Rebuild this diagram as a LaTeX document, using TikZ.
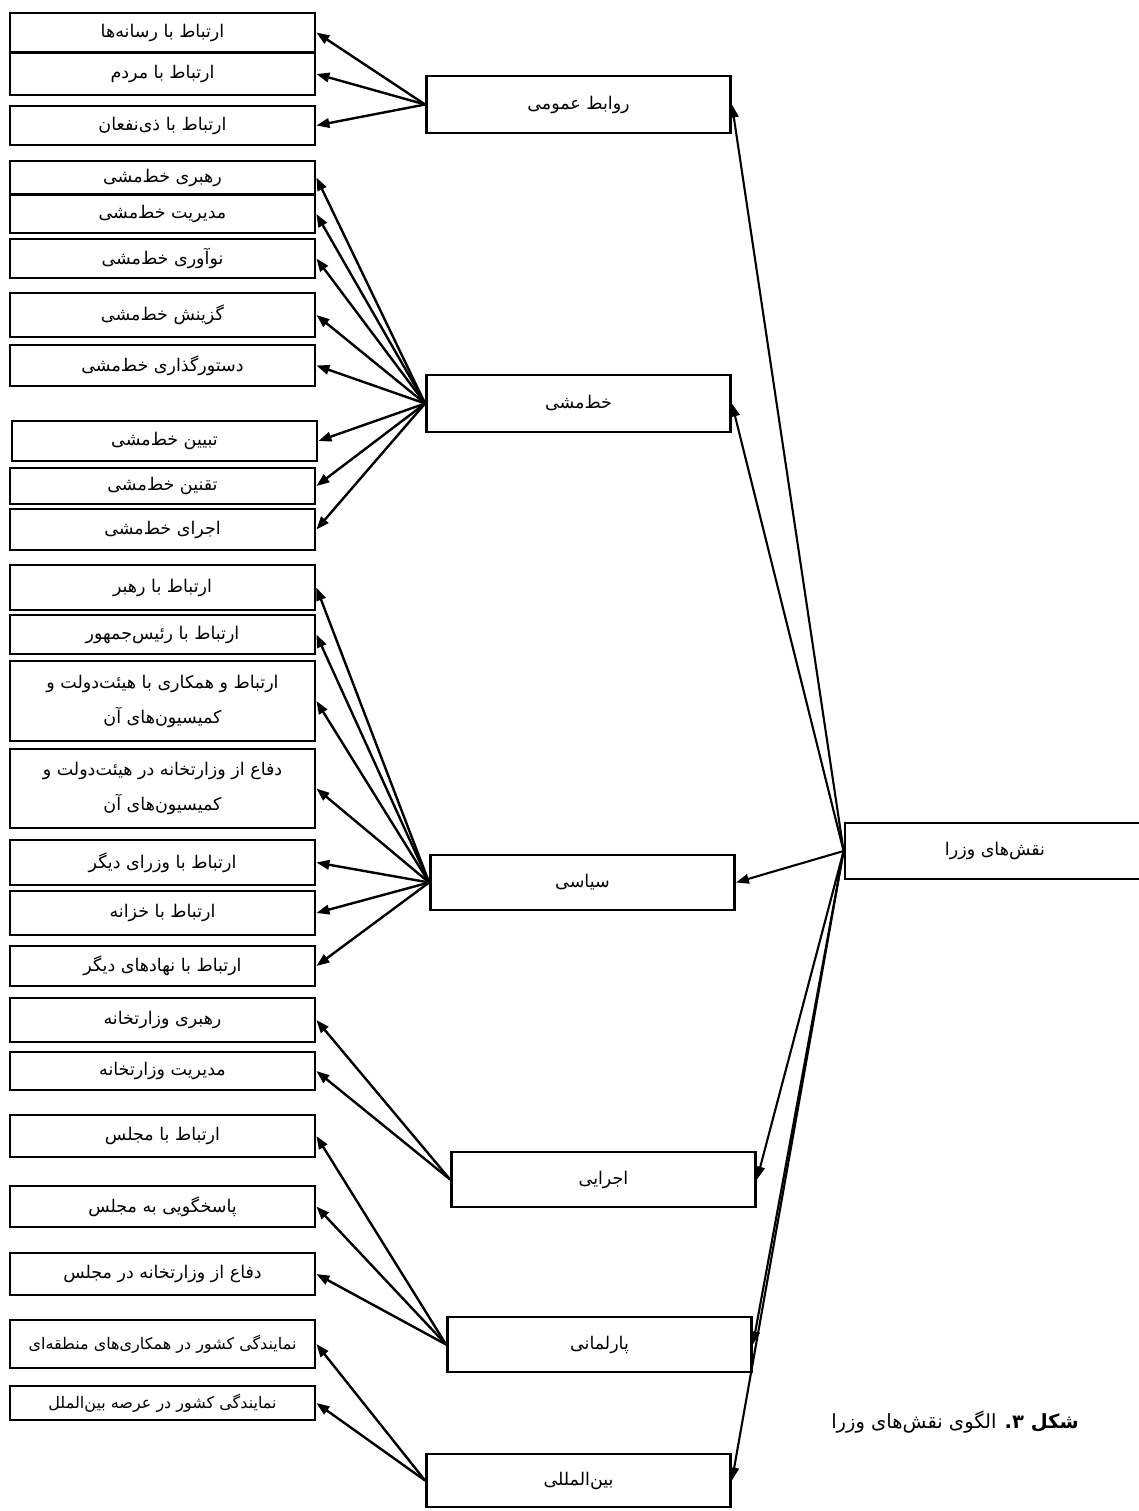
\documentclass[tikz,border=0pt]{standalone}
\usepackage{fontspec}
\usetikzlibrary{arrows.meta}
\TeXXeTstate=1
\newfontfamily\farsi[Script=Arabic]{DejaVu Sans}
\newcommand\rl[1]{\beginR#1\endR}

\begin{document}
\begin{tikzpicture}[x=1pt,y=-1pt,
  box/.style={draw, line width=2.8pt, inner sep=0pt, align=center,
              font=\farsi\fontsize{17.5}{35}\selectfont},
  leftbox/.style={box, minimum width=305pt},
  midbox/.style={box, minimum width=304pt},
  smalltext/.style={font=\farsi\fontsize{16}{20}\selectfont},
  arr/.style={line width=2.4pt, -{Triangle[length=13pt,width=9.5pt]}},
  mainarr/.style={line width=2.1pt, -{Triangle[length=13pt,width=9.5pt]}},
]
\useasboundingbox (0,0) rectangle (1139,1511);
\fill[white] (0,0) rectangle (1139,1511);

% sub-roles, left column
\node[leftbox, minimum height=39pt] (r1) at (162.5,32.5) {\rl{ارتباط با رسانه‌ها}};
\node[leftbox, minimum height=42pt] (r2) at (162.5,74) {\rl{ارتباط با مردم}};
\node[leftbox, minimum height=39pt] (r3) at (162.5,125.5) {\rl{ارتباط با ذی‌نفعان}};

\node[leftbox, minimum height=33pt] (k1) at (162.5,177.5) {\rl{رهبری خط‌مشی}};
\node[leftbox, minimum height=38pt] (k2) at (162.5,214) {\rl{مدیریت خط‌مشی}};
\node[leftbox, minimum height=39pt] (k3) at (162.5,258.5) {\rl{نوآوری خط‌مشی}};
\node[leftbox, minimum height=44pt] (k4) at (162.5,315) {\rl{گزینش خط‌مشی}};
\node[leftbox, minimum height=41pt] (k5) at (162.5,365.5) {\rl{دستورگذاری خط‌مشی}};
\node[leftbox, minimum height=40pt] (k6) at (164.5,441) {\rl{تبیین خط‌مشی}};
\node[leftbox, minimum height=36pt] (k7) at (162.5,486) {\rl{تقنین خط‌مشی}};
\node[leftbox, minimum height=41pt] (k8) at (162.5,529.5) {\rl{اجرای خط‌مشی}};

\node[leftbox, minimum height=45pt] (s1) at (162.5,587.5) {\rl{ارتباط با رهبر}};
\node[leftbox, minimum height=39pt] (s2) at (162.5,634.5) {\rl{ارتباط با رئیس‌جمهور}};
\node[leftbox, minimum height=80pt] (s3) at (162.5,701) {\rl{ارتباط و همکاری با هیئت‌دولت و}\\\rl{کمیسیون‌های آن}};
\node[leftbox, minimum height=79pt] (s4) at (162.5,788.5) {\rl{دفاع از وزارتخانه در هیئت‌دولت و}\\\rl{کمیسیون‌های آن}};
\node[leftbox, minimum height=45pt] (s5) at (162.5,862.5) {\rl{ارتباط با وزرای دیگر}};
\node[leftbox, minimum height=44pt] (s6) at (162.5,913) {\rl{ارتباط با خزانه}};
\node[leftbox, minimum height=40pt] (s7) at (162.5,966) {\rl{ارتباط با نهادهای دیگر}};

\node[leftbox, minimum height=44pt] (e1) at (162.5,1020) {\rl{رهبری وزارتخانه}};
\node[leftbox, minimum height=38pt] (e2) at (162.5,1071) {\rl{مدیریت وزارتخانه}};

\node[leftbox, minimum height=42pt] (p1) at (162.5,1136) {\rl{ارتباط با مجلس}};
\node[leftbox, minimum height=41pt] (p2) at (162.5,1206.5) {\rl{پاسخگویی به مجلس}};
\node[leftbox, minimum height=42pt] (p3) at (162.5,1274) {\rl{دفاع از وزارتخانه در مجلس}};

\node[leftbox, smalltext, minimum height=48pt] (b1) at (162.5,1344) {\rl{نمایندگی کشور در همکاری‌های منطقه‌ای}};
\node[leftbox, smalltext, minimum height=34pt] (b2) at (162.5,1403) {\rl{نمایندگی کشور در عرصه بین‌الملل}};

% main roles, middle column
\node[midbox, minimum height=57pt] (pr)  at (578.5,104.5) {\rl{روابط عمومی}};
\node[midbox, minimum height=57pt] (pol) at (578.5,403.5) {\rl{خط‌مشی}};
\node[midbox, minimum height=55pt] (pos) at (582.5,882.5) {\rl{سیاسی}};
\node[midbox, minimum height=55pt] (ex)  at (603.5,1179.5) {\rl{اجرایی}};
\node[midbox, minimum height=55pt] (pa)  at (599.5,1344.5) {\rl{پارلمانی}};
\node[midbox, minimum height=53pt] (in)  at (578.5,1480.5) {\rl{بین‌المللی}};

% root
\node[box, minimum width=300pt, minimum height=56pt] (root) at (995,851) {\rl{نقش‌های وزرا}};

% caption
\node[font=\farsi\fontsize{19.5}{22}\selectfont, inner sep=0pt] (cap) at (955,1422)
  {\rl{{\bfseries شکل ۳\kern0pt.} الگوی نقش‌های وزرا}};

% root to main roles
\foreach \t in {pr,pol,pos,ex,pa,in}
  \draw[mainarr] (root.west) -- (\t.east);

% main roles to sub-roles
\foreach \t in {r1,r2,r3}
  \draw[arr] (pr.west) -- (\t.east);
\foreach \t in {k1,k2,k3,k4,k5,k6,k7,k8}
  \draw[arr] (pol.west) -- (\t.east);
\foreach \t in {s1,s2,s3,s4,s5,s6,s7}
  \draw[arr] (pos.west) -- (\t.east);
\foreach \t in {e1,e2}
  \draw[arr] (ex.west) -- (\t.east);
\foreach \t in {p1,p2,p3}
  \draw[arr] (pa.west) -- (\t.east);
\foreach \t in {b1,b2}
  \draw[arr] (in.west) -- (\t.east);
\end{tikzpicture}
\end{document}
